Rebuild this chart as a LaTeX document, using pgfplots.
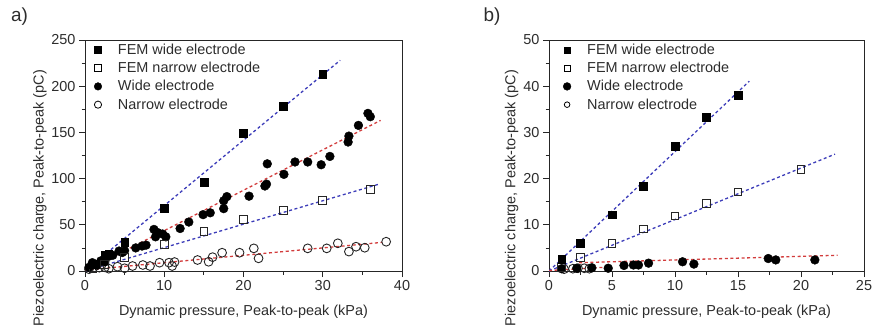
\documentclass[border=0pt]{standalone}
\usepackage{pgfplots}
\pgfplotsset{compat=1.18}
\usepackage{fontspec}
\setmainfont{Liberation Sans}
\definecolor{fblue}{RGB}{60,60,185}
\definecolor{fred}{RGB}{210,60,60}
\definecolor{txt}{RGB}{45,45,45}
\pgfplotsset{
  panel/.style={
    scale only axis, width=317bp, height=231bp,
    axis line style={black!85, line width=0.8bp},
    tick style={black!85, line width=0.8bp},
    tick align=outside, major tick length=6bp, minor tick length=3.5bp,
    xtick pos=bottom, ytick pos=left,
    minor x tick num=1, minor y tick num=1,
    tick label style={text=txt, font=\fontsize{14.5}{16}\selectfont},
    every tick label/.append style={font=\fontsize{14.5}{16}\selectfont},
    /pgf/number format/assume math mode=true,
    every axis x label/.style={at={(axis description cs:0.5,-0.175)}, anchor=center, text=txt, font=\fontsize{14.5}{17}\selectfont},
    legend cell align=left,
    legend image code/.code={\draw[##1] plot coordinates {(0bp,0bp)};},
    legend style={at={(axis description cs:0,1)}, anchor=north west, xshift=9bp, yshift=-2.5bp,
      draw=none, fill=none, inner sep=0pt, row sep=3.9bp,
      font=\fontsize{14.5}{17}\selectfont, text=txt,
      nodes={inner sep=1.2bp},
      /tikz/every odd column/.append style={column sep=15bp}},
  },
  femw/.style={only marks, mark=square*, mark size=3.9bp, mark options={draw=black, fill=black}},
  femn/.style={only marks, mark=square, mark size=3.9bp, mark options={draw=black!85, line width=0.9bp}},
  wide/.style={only marks, mark=*, mark size=4.4bp, mark options={draw=black, fill=black}},
  narr/.style={only marks, mark=o, mark size=4.4bp, mark options={draw=black!85, line width=0.9bp}},
  bl/.style={fblue, line width=1.3bp, dash pattern=on 3bp off 2.6bp},
  rl/.style={fred, line width=1.3bp, dash pattern=on 3bp off 2.6bp},
}
\begin{document}
\begin{tikzpicture}[x=1bp,y=1bp, font=\fontsize{14.5}{17}\selectfont]
\path[use as bounding box] (0bp,0bp) rectangle (876bp,-326bp);
\node[text=txt, font=\fontsize{19}{22}\selectfont] at (19.5bp,-16.5bp) {a)};
\node[text=txt, font=\fontsize{19}{22}\selectfont] at (492bp,-16.5bp) {b)};
\begin{axis}[panel, at={(85bp,-271bp)}, anchor=south west,
  xmin=0, xmax=40, ymin=0, ymax=250,
  xtick={0,10,20,30,40}, ytick={0,50,100,150,200,250},
  xlabel={Dynamic pressure, Peak-to-peak (kPa)},
  ylabel={Piezoelectric charge, Peak-to-peak (pC)},
  every axis y label/.style={at={(axis description cs:-0.142,0.316)}, rotate=90, anchor=center, text=txt, font=\fontsize{14.5}{17}\selectfont},
]
\addlegendimage{only marks, mark=square*, mark size=3.4bp, mark options={fill=black}}
\addlegendentry{FEM wide electrode}
\addlegendimage{only marks, mark=square, mark size=3.4bp, mark options={line width=0.8bp}}
\addlegendentry{FEM narrow electrode}
\addlegendimage{only marks, mark=*, mark size=3.8bp, mark options={fill=black}}
\addlegendentry{Wide electrode}
\addlegendimage{only marks, mark=o, mark size=3.6bp, mark options={line width=0.8bp}}
\addlegendentry{Narrow electrode}
% Narrow electrode
\addplot[narr, forget plot] coordinates {
(0.5,2) (1.8,3.6) (2.5,4) (3,2.5) (4.1,4.7) (5,3) (6,5.4) (7.3,6.5) (8.2,5.4)
(9.4,9) (10.6,9) (11,5.4) (11.3,9.7) (14.2,11.9) (15.6,10) (16.1,15) (17.3,19.8)
(19.5,19.8) (21.3,24.5) (21.9,13.7) (28.1,24.5) (30.5,24.5) (31.9,30) (33.3,21)
(34.2,26.3) (35.3,25.2) (38,31.7)};
% Wide electrode
\addplot[wide, forget plot] coordinates {
(0.5,4) (0.93,9) (1.5,6) (2,11) (2.5,10) (3,16) (3.5,17) (4.3,21.6) (4.7,20) (5,22)
(6.4,25) (7.2,27) (7.7,28) (8.7,45) (9.2,41.5) (9.8,40) (10.2,37) (8.9,37)
(12,46) (13.1,53) (14.9,61) (15.8,63) (17.5,67.5) (17.5,76) (17.9,80.5) (20.7,81)
(22.7,92) (22.9,94) (23,116) (25.1,104.6) (26.5,118) (28.1,118) (29.8,115) (30.9,124)
(33.2,139.6) (33.3,146) (34.5,157.6) (35.7,170.6) (36,167)};
% FEM narrow
\addplot[femn, forget plot] coordinates {
(1,3) (2.5,7) (5,14.5) (10,29) (15,42.6) (20,55.5) (25,65.5) (30,76) (36,88)};
% FEM wide
\addplot[femw, forget plot] coordinates {
(1,7) (2.5,17) (3,18) (5,31) (10,68) (15,96.5) (20,149) (25,178.6) (30,213)};
% fitted lines
\addplot[bl, forget plot] coordinates {(0,0) (32.2,228)};
\addplot[bl, forget plot] coordinates {(0,0) (37.1,94)};
\addplot[rl, forget plot] coordinates {(0,0) (37.3,163)};
\addplot[rl, forget plot] coordinates {(0,1) (37.5,31)};
\end{axis}
\begin{axis}[panel, at={(549bp,-271bp)}, anchor=south west, width=315bp,
  xmin=0, xmax=25, ymin=0, ymax=50,
  xtick={0,5,10,15,20,25}, ytick={0,10,20,30,40,50},
  xlabel={Dynamic pressure, Peak-to-peak (kPa)},
  ylabel={Piezoelectric charge, Peak-to-peak (pC)},
  every axis y label/.style={at={(axis description cs:-0.119,0.316)}, rotate=90, anchor=center, text=txt, font=\fontsize{14.5}{17}\selectfont},
  legend style={xshift=5bp},
]
\addlegendimage{only marks, mark=square*, mark size=3.1bp, mark options={fill=black}}
\addlegendentry{FEM wide electrode}
\addlegendimage{only marks, mark=square, mark size=3.1bp, mark options={line width=0.8bp}}
\addlegendentry{FEM narrow electrode}
\addlegendimage{only marks, mark=*, mark size=3.9bp, mark options={fill=black}}
\addlegendentry{Wide electrode}
\addlegendimage{only marks, mark=o, mark size=2.8bp, mark options={line width=0.8bp}}
\addlegendentry{Narrow electrode}
% Narrow electrode
\addplot[narr, forget plot] coordinates {
(1.2,0.4) (1.9,0.5) (2.3,0.6) (2.8,0.6) (3.2,0.5)};
% Wide electrode
\addplot[wide, forget plot] coordinates {
(1,0.5) (2.2,0.6) (3.4,0.7) (4.7,0.6) (5.95,1.2) (6.7,1.3) (7.1,1.3) (7.9,1.7)
(10.6,2.0) (11.5,1.5) (17.4,2.7) (18,2.4) (21.1,2.4)};
% FEM narrow
\addplot[femn, forget plot] coordinates {
(1,0.8) (2.5,2.9) (5,6) (7.5,9.1) (10,11.9) (12.5,14.7) (15,17.1) (20,22)};
% FEM wide
\addplot[femw, forget plot] coordinates {
(1,2.5) (2.5,6) (5,12.2) (7.5,18.3) (10,27) (12.5,33.3) (15,38)};
% fitted lines
\addplot[bl, forget plot] coordinates {(0,0) (15.9,41.1)};
\addplot[bl, forget plot] coordinates {(0,0) (22.7,25.3)};
\addplot[rl, forget plot] coordinates {(2.4,1.8) (22.9,3.4)};
\addplot[rl, forget plot] coordinates {(0,0.1) (5,0.9)};
\end{axis}
\end{tikzpicture}
\end{document}
